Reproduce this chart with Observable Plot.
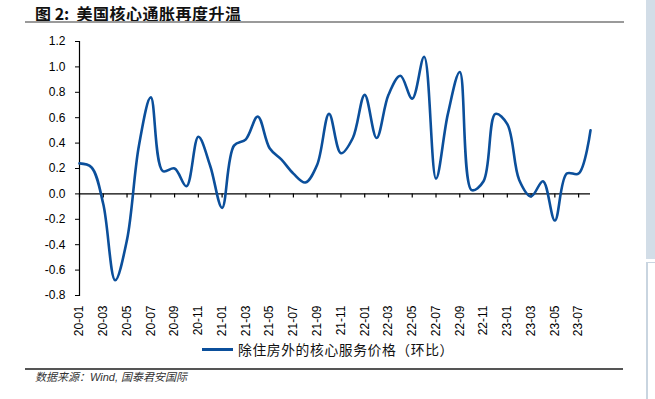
<!DOCTYPE html>
<html><head><meta charset="utf-8">
<script src="https://cdn.jsdelivr.net/npm/d3@7"></script>
<script src="https://cdn.jsdelivr.net/npm/@observablehq/plot@0.6"></script>
<style>
body{margin:0;background:#fff;width:655px;height:399px;position:relative;overflow:hidden;font-family:"Liberation Sans",Arial,sans-serif;}
#title{position:absolute;left:35px;top:3px;font-family:"Noto Sans CJK SC",sans-serif;font-weight:bold;font-size:16px;line-height:20px;color:#111;white-space:nowrap;}
#title .cn{letter-spacing:0.5px;}
#rule1{position:absolute;left:25px;top:21px;width:599px;height:2px;background:#9a9a9a;}
#chart{position:absolute;left:0;top:30px;}
#legend{position:absolute;left:202px;top:340px;display:flex;align-items:center;font-family:"Noto Sans CJK SC",sans-serif;font-size:13.8px;line-height:18px;color:#111;white-space:nowrap;}
#legend .txt{letter-spacing:0.6px;}
#legend .sw{display:inline-block;width:31px;height:3px;background:#0b4f9b;margin-right:5px;}
#rule2{position:absolute;left:25px;top:368px;width:598px;height:1.5px;background:#555;}
#source{position:absolute;left:35px;top:369px;font-size:11px;line-height:16px;font-style:italic;color:#333;white-space:nowrap;font-family:"Liberation Sans","Noto Sans CJK SC",sans-serif;}
#side{position:absolute;left:646px;top:0;width:9px;height:259px;background:#d2dde7;}
#sidebox{position:absolute;left:646px;top:262px;width:9px;height:140px;border-left:2px solid #c9d5e0;border-top:1px solid #c9d5e0;box-sizing:border-box;}
</style></head><body>
<div id="title">图 2:&nbsp;&nbsp;<span class="cn">美国核心通胀再度升温</span></div>
<div id="rule1"></div>
<div id="chart"></div>
<div id="legend"><span class="sw"></span><span class="txt">除住房外的核心服务价格（环比）</span></div>
<div id="rule2"></div>
<div id="source">数据来源：Wind, 国泰君安国际</div>
<div id="side"></div><div id="sidebox"></div>
<script>
const months = ["20-01","20-02","20-03","20-04","20-05","20-06","20-07","20-08","20-09","20-10","20-11","20-12",
  "21-01","21-02","21-03","21-04","21-05","21-06","21-07","21-08","21-09","21-10","21-11","21-12",
  "22-01","22-02","22-03","22-04","22-05","22-06","22-07","22-08","22-09","22-10","22-11","22-12",
  "23-01","23-02","23-03","23-04","23-05","23-06","23-07","23-08"];
const values = [0.24,0.21,-0.08,-0.68,-0.36,0.38,0.76,0.18,0.20,0.06,0.45,0.22,
  -0.11,0.38,0.43,0.61,0.36,0.27,0.16,0.09,0.23,0.63,0.32,0.44,
  0.78,0.44,0.78,0.93,0.75,1.08,0.12,0.63,0.96,0.03,0.10,0.63,
  0.55,0.11,-0.02,0.10,-0.21,0.16,0.16,0.50];
const xTickLabels = ["20-01","20-03","20-05","20-07","20-09","20-11","21-01","21-03","21-05","21-07","21-09","21-11",
  "22-01","22-03","22-05","22-07","22-09","22-11","23-01","23-03","23-05","23-07"];
const yTicks = [-0.8,-0.6,-0.4,-0.2,0,0.2,0.4,0.6,0.8,1.0,1.2];
const seriesName = "除住房外的核心服务价格（环比）";

const data = months.map((m,i)=>({month:m, value:values[i]}));

const chart = Plot.plot({
  width: 645, height: 320,
  marginTop: 11, marginBottom: 55, marginLeft: 79, marginRight: 55,
  x: {type:"point", domain: months, padding: 0},
  y: {domain: [-0.8, 1.2]},
  style: {fontFamily: "'Liberation Sans', Arial, sans-serif", fontSize: "12px", color: "#000", background: "transparent"},
  marks: [
    Plot.frame({anchor: "left", stroke: "#000", strokeWidth: 1.2}),
    Plot.ruleY([0], {stroke: "#000", strokeWidth: 1.2}),
    Plot.ruleX(xTickLabels, {x: d => d, y1: 0, y2: -0.032, stroke: "#000", strokeWidth: 1.2}),
    Plot.axisY(yTicks, {tickSize: 4, tickPadding: 10, tickFormat: d => d.toFixed(1), label: null, fontSize: 12, stroke: "#000"}),
    Plot.axisX(xTickLabels, {tickRotate: -90, tickSize: 0, tickPadding: 10, label: null, fontSize: 12}),
    Plot.line(data, {x: "month", y: "value", curve: "catmull-rom", stroke: "#0b4f9b", strokeWidth: 2.6})
  ]
});
document.getElementById("chart").appendChild(chart);
</script>
</body></html>
